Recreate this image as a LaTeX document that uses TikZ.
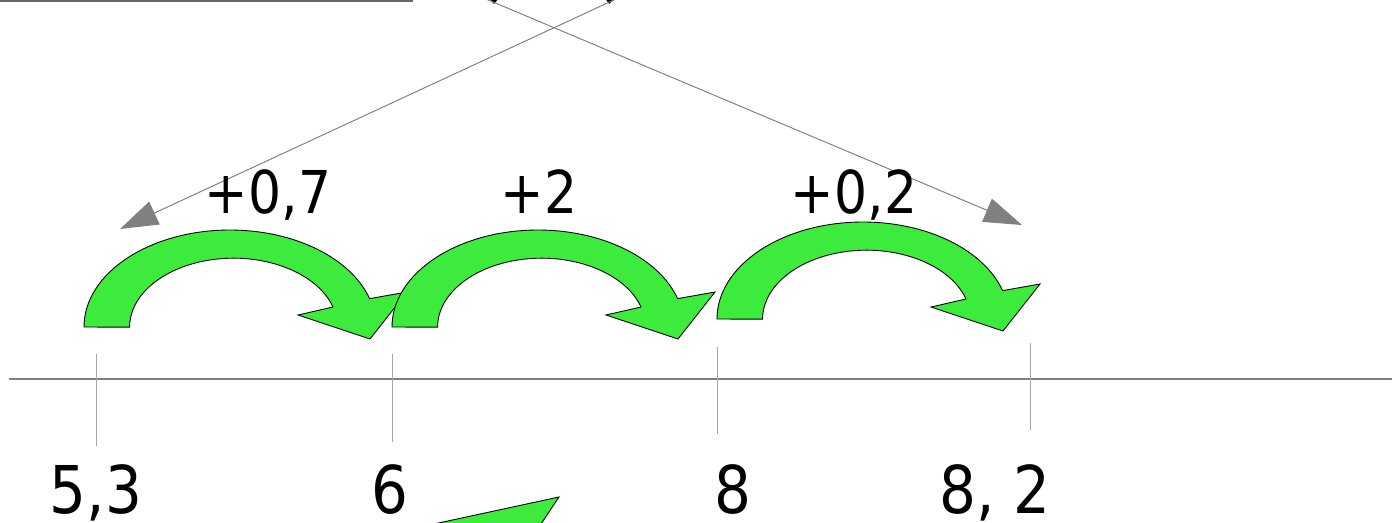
\documentclass[tikz,border=0pt]{standalone}
\usepackage{fontspec}
\setmainfont{DejaVu Sans}[FakeStretch=0.88]
\usepackage{tikz}
\usetikzlibrary{arrows.meta, positioning, calc}
\definecolor{JumpGreen}{RGB}{61,235,61}
\definecolor{LineGray}{RGB}{128,128,128}
\definecolor{TickGray}{RGB}{165,165,165}
\definecolor{TopGray}{RGB}{105,105,105}
\tikzset{
  axisline/.style={draw=LineGray, line width=0.8pt},
  tickline/.style={draw=TickGray, line width=0.55pt},
  topline/.style={draw=TopGray, line width=1.1pt},
  pointer/.style={-{Triangle[length=0.76cm, width=0.5cm]}, draw=LineGray,
    line width=0.55pt},
  numlbl/.style={font=\fontsize{37.5}{44}\selectfont, anchor=base, inner sep=0pt},
  jmplbl/.style={font=\fontsize{33.6}{40}\selectfont, anchor=base, inner sep=0pt},
  jumpshape/.style={fill=JumpGreen, draw=black, line width=0.5pt, line join=miter},
  jump/.pic={
    \path[jumpshape] (0,0) arc[start angle=180, end angle=17, x radius=146, y radius=97]
      -- (323,35) -- (286,-12) -- (214,12) -- (249,20)
      arc[start angle=17, end angle=180, x radius=104, y radius=69] -- cycle;
  }
}
\begin{document}
\begin{tikzpicture}[x=0.02cm, y=0.02cm]
  \useasboundingbox (0,0) rectangle (1397,-522);
  \clip (0,0) rectangle (1397,-522);

  % Top remains
  \coordinate (topl) at (0,-1);
  \coordinate (topr) at (413,-1);
  \draw[topline] (topl) -- (topr);
  \fill[black] (489,2) -- (499,2) -- (494,-4) -- cycle;
  \fill[black] (605,2) -- (615,2) -- (609,-4) -- cycle;

  % Pointers
  \coordinate (srcA) at (486,1);
  \coordinate (dstA) at (1022,-225);
  \coordinate (srcB) at (616,1);
  \coordinate (dstB) at (120,-229);
  \draw[pointer] (srcA) -- (dstA);
  \draw[pointer] (srcB) -- (dstB);

  % Jumps
  \pic at (84,-327) {jump};
  \pic at (392,-327) {jump};
  \pic at (717,-319) {jump};
  \path[jumpshape] (559,-497) -- (406,-530) -- (537,-530) -- cycle;

  \node[jmplbl] (jmpa) at (268,-213) {+0,7};
  \node[jmplbl] (jmpb) at (539,-213) {+2};
  \node[jmplbl] (jmpc) at (854,-213) {+0,2};

  % Number line
  \coordinate (axl) at (9,-379);
  \coordinate (axr) at (1392,-379);
  \draw[axisline] (axl) -- (axr);

  \coordinate (t1a) at (96,-354);  \coordinate (t1b) at (96,-446);
  \coordinate (t2a) at (392,-354); \coordinate (t2b) at (392,-442);
  \coordinate (t3a) at (717,-347); \coordinate (t3b) at (717,-434);
  \coordinate (t4a) at (1030,-343); \coordinate (t4b) at (1030,-430);
  \draw[tickline] (t1a)--(t1b); \draw[tickline] (t2a)--(t2b);
  \draw[tickline] (t3a)--(t3b); \draw[tickline] (t4a)--(t4b);

  \node[numlbl] (n53) at (96,-513) {5,3};
  \node[numlbl] (n6) at (390,-513) {6};
  \node[numlbl] (n8) at (733,-513) {8};
  \node[numlbl] (n82) at (995,-513) {8, 2};

\end{tikzpicture}
\end{document}
